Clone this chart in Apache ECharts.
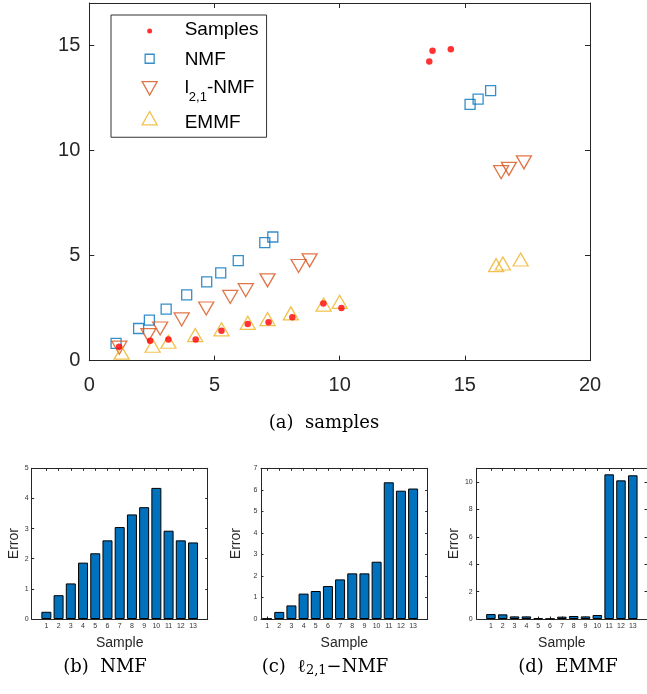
<!DOCTYPE html>
<html><head><meta charset="utf-8">
<script src="https://cdn.jsdelivr.net/npm/echarts@6/dist/echarts.min.js"></script>
<style>html,body{margin:0;padding:0;background:#fff}#c{width:647px;height:694px}</style>
</head><body><div id="c"></div>
<script>
// ---- data ----
const samplesX = [1.19, 2.43, 3.16, 4.25, 5.28, 6.33, 7.16, 8.11, 9.35, 10.07, 13.58, 13.71, 14.44];
const samplesY = [0.66, 0.95, 1.01, 1.01, 1.42, 1.74, 1.83, 2.06, 2.72, 2.50, 14.22, 14.73, 14.80];
const nmfX = [1.07, 1.97, 2.40, 3.07, 3.89, 4.69, 5.25, 5.95, 7.01, 7.33, 15.21, 15.53, 16.03];
const nmfY = [0.82, 1.53, 1.93, 2.45, 3.13, 3.75, 4.17, 4.76, 5.61, 5.88, 12.18, 12.43, 12.84];
const l21X = [1.20, 2.36, 2.83, 3.69, 4.67, 5.63, 6.25, 7.12, 8.36, 8.80, 16.45, 16.76, 17.36];
const l21Y = [0.62, 1.22, 1.53, 1.96, 2.48, 3.03, 3.35, 3.82, 4.50, 4.77, 8.96, 9.12, 9.43];
const emmfX = [1.29, 2.53, 3.16, 4.23, 5.28, 6.33, 7.12, 8.05, 9.36, 10.00, 16.25, 16.52, 17.23];
const emmfY = [0.38, 0.71, 0.90, 1.22, 1.49, 1.80, 1.98, 2.25, 2.67, 2.80, 4.54, 4.62, 4.81];

const sampleIdx = [1, 2, 3, 4, 5, 6, 7, 8, 9, 10, 11, 12, 13];
const errNMF  = [0.24, 0.79, 1.18, 1.87, 2.18, 2.61, 3.05, 3.47, 3.71, 4.35, 2.93, 2.61, 2.54];
const errL21  = [0.02, 0.33, 0.63, 1.18, 1.30, 1.53, 1.84, 2.12, 2.12, 2.66, 6.35, 5.96, 6.06];
const errEMMF = [0.36, 0.34, 0.19, 0.19, 0.05, 0.02, 0.17, 0.22, 0.19, 0.29, 10.56, 10.12, 10.49];

const mainXTicks = [0, 5, 10, 15, 20];
const mainYTicks = [0, 5, 10, 15];
const nmfYTicks  = [0, 1, 2, 3, 4, 5];
const l21YTicks  = [0, 1, 2, 3, 4, 5, 6, 7];
const emmfYTicks = [0, 2, 4, 6, 8, 10];

const seriesNames = ['Samples', 'NMF', 'l2,1-NMF', 'EMMF'];
const captions = ['(a)  samples', '(b)  NMF', '(c)  \u2113', '(d)  EMMF'];

// ---- styling / layout ----
const FF = '"Liberation Sans", Arial, Helvetica, sans-serif';
const SERIF = '"DejaVu Serif", serif';
const AX = '#262626';
const zip = (a, b) => a.map((v, i) => [v, b[i]]);

function xPair(gi, min, max, ticks, o) {
  const mk = (pos, lab) => ({
    type: 'value', gridIndex: gi, min: min, max: max, position: pos,
    splitLine: { show: false },
    axisLine: { show: true, onZero: false, lineStyle: { color: AX, width: 1 } },
    axisTick: { show: true, inside: true, length: o.tick, customValues: ticks, lineStyle: { color: AX, width: 1 } },
    axisLabel: lab ? { show: true, customValues: ticks, margin: o.margin, fontSize: o.fs, color: o.lc, fontFamily: FF } : { show: false },
    name: lab ? (o.name || '') : '', nameLocation: 'middle', nameGap: o.nameGap || 0,
    nameTextStyle: { fontFamily: FF, fontSize: o.nfs || 14, color: AX }
  });
  return [mk('bottom', true), mk('top', false)];
}
function yPair(gi, min, max, ticks, o) {
  const mk = (pos, lab) => ({
    type: 'value', gridIndex: gi, min: min, max: max, position: pos,
    splitLine: { show: false },
    axisLine: { show: true, onZero: false, lineStyle: { color: AX, width: 1 } },
    axisTick: { show: true, inside: true, length: o.tick, customValues: ticks, lineStyle: { color: AX, width: 1 } },
    axisLabel: lab ? { show: true, customValues: ticks, margin: o.margin, fontSize: o.fs, color: o.lc, fontFamily: FF } : { show: false },
    name: lab ? (o.name || '') : '', nameLocation: 'middle', nameRotate: 90, nameGap: o.nameGap || 0,
    nameTextStyle: { fontFamily: FF, fontSize: o.nfs || 14, color: AX }
  });
  return [mk('left', true), mk('right', false)];
}

const barX = { tick: 2.5, margin: 4, fs: 7, lc: '#333', name: 'Sample', nameGap: 17 };
const xAxis = [].concat(
  xPair(0, 0, 20, mainXTicks, { tick: 5, margin: 15, fs: 20, lc: AX }),
  xPair(1, -0.2, 14.2, sampleIdx, barX),
  xPair(2, 0.5, 14.2, sampleIdx, barX),
  xPair(3, -0.2, 14.2, sampleIdx, barX)
);
const yAxis = [].concat(
  yPair(0, 0, 17, mainYTicks, { tick: 5, margin: 9, fs: 20, lc: AX }),
  yPair(1, 0, 5, nmfYTicks, { tick: 2.5, margin: 3, fs: 7, lc: '#333', name: 'Error', nameGap: 10 }),
  yPair(2, 0, 7, l21YTicks, { tick: 2.5, margin: 3.5, fs: 7, lc: '#333', name: 'Error', nameGap: 18 }),
  yPair(3, 0, 11, emmfYTicks, { tick: 2.5, margin: 4, fs: 7, lc: '#333', name: 'Error', nameGap: 15.5 })
);

const open = c => ({ color: 'rgba(0,0,0,0)', borderColor: c, borderWidth: 1.3 });
const barStyle = { color: '#0072BD', borderColor: '#000', borderWidth: 1 };

const option = {
  animation: false,
  backgroundColor: '#fff',
  grid: [
    { left: 89.3, top: 3, width: 500.7, height: 357.7 },
    { left: 31.7, top: 468.3, width: 176, height: 150.7 },
    { left: 261, top: 468.3, width: 166.7, height: 150.7 },
    { left: 476.7, top: 468.3, width: 171.7, height: 150.7 }
  ],
  xAxis: xAxis,
  yAxis: yAxis,
  legend: {
    orient: 'vertical', left: 111, top: 15, padding: [1, 8, 0.5, 8], itemGap: 1.2,
    itemWidth: 60, itemHeight: 24, selectedMode: false,
    borderColor: '#333', borderWidth: 1, backgroundColor: '#fff',
    itemStyle: { borderWidth: 1.3 },
    textStyle: {
      fontFamily: FF, fontSize: 19, color: '#000', lineHeight: 28.5,
      rich: {
        a: { fontFamily: FF, fontSize: 19, color: '#000', lineHeight: 19, verticalAlign: 'top' },
        s: { fontFamily: FF, fontSize: 13, color: '#000', lineHeight: 13, padding: [12.5, 0, 3, 0], verticalAlign: 'top' }
      }
    },
    formatter: n => n === seriesNames[2] ? '{a|l}{s|2,1}{a|-NMF}' : n,
    data: [
      { name: seriesNames[0], icon: 'path://M-20 -2M40 22M7.5 10.7A2.5 2.5 0 1 0 12.5 10.7A2.5 2.5 0 1 0 7.5 10.7Z' },
      { name: seriesNames[1], icon: 'path://M-20 -2M40 22M5.5 4.3L14.5 4.3L14.5 13.3L5.5 13.3Z' },
      { name: seriesNames[2], icon: 'path://M-20 -2M40 22M2.5 3.6L17.5 3.6L10 17Z' },
      { name: seriesNames[3], icon: 'path://M-20 -2M40 22M2.5 12.4L17.5 12.4L10 -1Z' }
    ]
  },
  series: [
    { type: 'scatter', name: seriesNames[1], xAxisIndex: 0, yAxisIndex: 0, symbol: 'rect', symbolSize: 10,
      itemStyle: open('#0072BD'), data: zip(nmfX, nmfY), z: 2 },
    { type: 'scatter', name: seriesNames[2], xAxisIndex: 0, yAxisIndex: 0, symbol: 'path://M0 0L15 0L7.5 13Z', symbolSize: [15, 13],
      itemStyle: open('#D95319'), data: zip(l21X, l21Y), z: 2 },
    { type: 'scatter', name: seriesNames[3], xAxisIndex: 0, yAxisIndex: 0, symbol: 'path://M7.5 0L15 13L0 13Z', symbolSize: [15, 13],
      itemStyle: open('#EDB120'), data: zip(emmfX, emmfY), z: 2 },
    { type: 'scatter', name: seriesNames[0], xAxisIndex: 0, yAxisIndex: 0, symbol: 'circle', symbolSize: 6.5,
      itemStyle: { color: '#FF0000' }, data: zip(samplesX, samplesY), z: 3 },
    { type: 'bar', name: 'errNMF', xAxisIndex: 2, yAxisIndex: 2, barWidth: 10, itemStyle: barStyle, data: zip(sampleIdx, errNMF) },
    { type: 'bar', name: 'errL21', xAxisIndex: 4, yAxisIndex: 4, barWidth: 10, itemStyle: barStyle, data: zip(sampleIdx, errL21) },
    { type: 'bar', name: 'errEMMF', xAxisIndex: 6, yAxisIndex: 6, barWidth: 9.5, itemStyle: barStyle, data: zip(sampleIdx, errEMMF) }
  ],
  graphic: [
    { type: 'text', x: 324, y: 423, style: { text: captions[0], font: '18px ' + SERIF, fill: '#000', align: 'center', verticalAlign: 'middle' } },
    { type: 'text', x: 105, y: 667, style: { text: captions[1], font: '18px ' + SERIF, fill: '#000', align: 'center', verticalAlign: 'middle' } },
    { type: 'text', x: 325, y: 668, style: {
        text: '{t|' + captions[2] + '}{s|2,1}{t|\u2212NMF}', align: 'center', verticalAlign: 'middle',
        rich: {
          t: { fontFamily: SERIF, fontSize: 18, color: '#000', lineHeight: 20, verticalAlign: 'top' },
          s: { fontFamily: SERIF, fontSize: 13, color: '#000', lineHeight: 13, padding: [6, 0, 0, 0], verticalAlign: 'top' }
        } } },
    { type: 'text', x: 568, y: 667, style: { text: captions[3], font: '18px ' + SERIF, fill: '#000', align: 'center', verticalAlign: 'middle' } }
  ]
};
const chart = echarts.init(document.getElementById('c'), null, { renderer: 'canvas' });
chart.setOption(option);
</script></body></html>
